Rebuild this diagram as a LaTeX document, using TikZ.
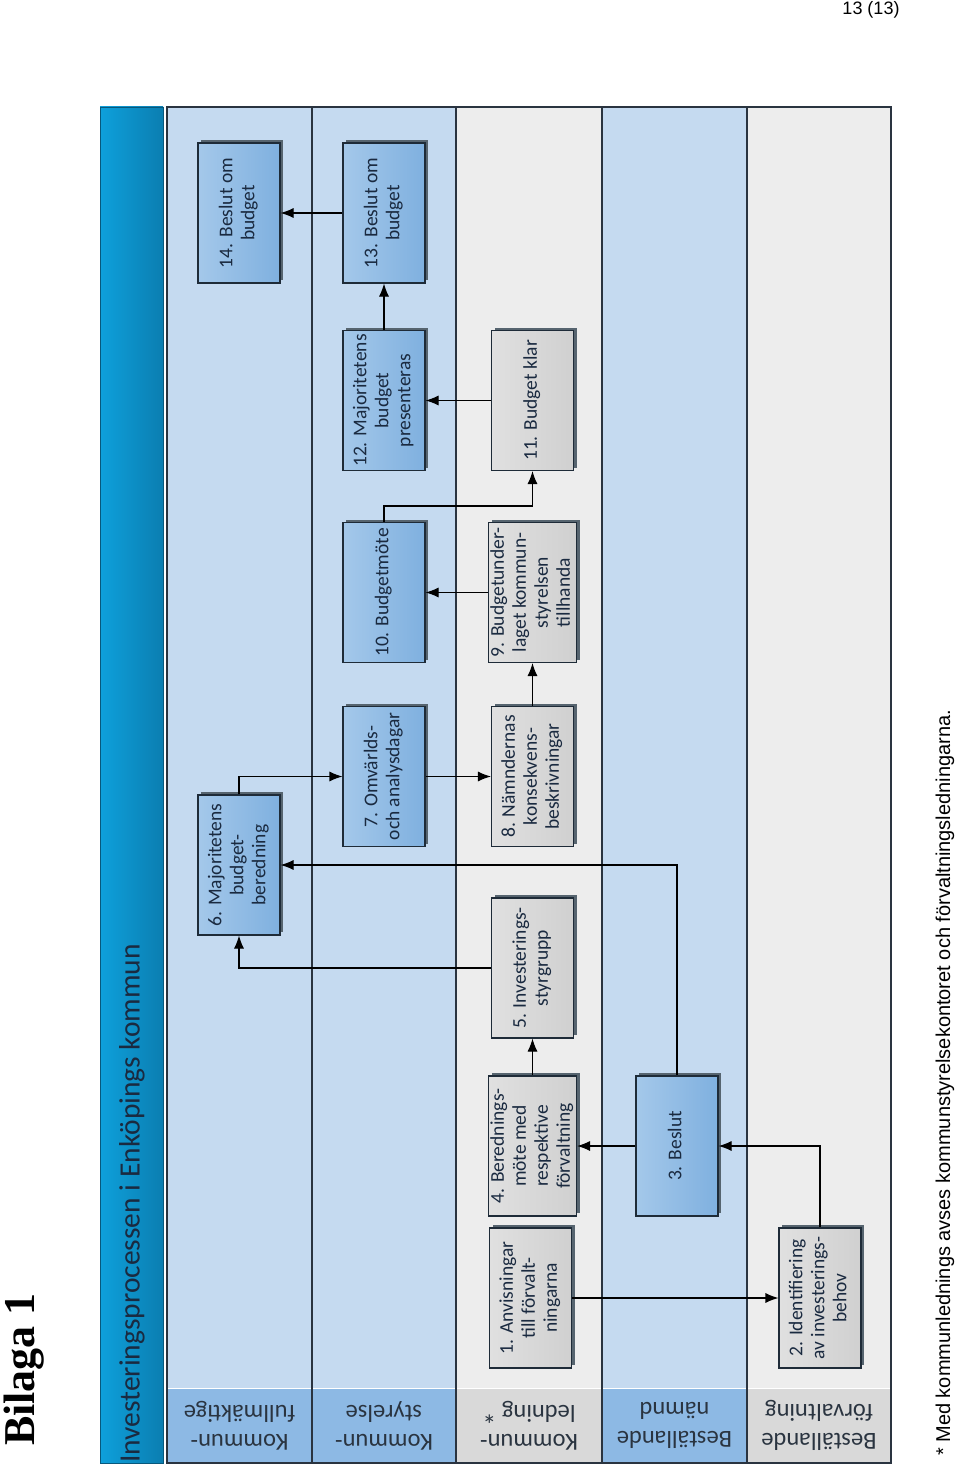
\documentclass[tikz,border=0pt]{standalone}
\usepackage{fontspec}
\usepackage{graphicx}
\setmainfont{Carlito}
\newfontfamily\arialf{Liberation Sans}
\newfontfamily\timesf{Liberation Serif}
\usetikzlibrary{arrows.meta,shadows}
\definecolor{lanebl}{HTML}{C5DAF0}
\definecolor{lanegr}{HTML}{EDEDED}
\definecolor{hdrbl}{HTML}{8DB9E4}
\definecolor{hdrgr}{HTML}{D9D9D9}
\definecolor{titlel}{HTML}{0EA0DB}
\definecolor{titler}{HTML}{0B7EB1}
\definecolor{boxbl}{HTML}{A4C8EA}
\definecolor{boxbr}{HTML}{7FB0DF}
\definecolor{boxgl}{HTML}{E0E0E0}
\definecolor{boxgr}{HTML}{D0D0D0}
\definecolor{boxline}{HTML}{1E2B38}
\definecolor{shadowc}{HTML}{56646F}
\definecolor{txtc}{HTML}{1A2A40}
\definecolor{lanel}{HTML}{2A3440}
\newcommand{\vtext}[1]{\rotatebox{90}{\begin{tabular}{@{}c@{}}#1\end{tabular}}}
\begin{document}
\begin{tikzpicture}[x=1pt,y=-1pt,
  boxbase/.style={draw=boxline, line width=1.1pt, minimum width=82pt, minimum height=140pt,
    inner sep=0pt, text=txtc, font=\fontsize{19.5}{22}\selectfont,
    drop shadow={shadow xshift=3pt, shadow yshift=3pt, fill=shadowc, opacity=1}},
  bluebox/.style={boxbase, left color=boxbl, right color=boxbr},
  greybox/.style={boxbase, left color=boxgl, right color=boxgr},
  hdr/.style={minimum width=144pt, minimum height=75pt, inner sep=0pt, rotate=180,
    align=center, text=lanel, font=\fontsize{24.5}{29}\selectfont},
  arr/.style={line width=1.1pt, draw=black, -{Latex[length=13pt,width=10pt]}}
]
\useasboundingbox (0,0) rectangle (960,1471);
\fill[white] (0,0) rectangle (960,1471);

% title bar
\shade[left color=titlel, right color=titler] (100,107) rectangle (163,1463);
\draw[line width=0.8pt, draw=titler!70!black] (100,107) rectangle (163,1463);
\node[rotate=90, anchor=west, inner sep=0pt, text=txtc, font=\fontsize{29.5}{32}\selectfont] (title) at (132,1463) {Investeringsprocessen i Enköpings kommun};

% lanes
\fill[lanebl] (167,107) rectangle (312,1388);
\fill[lanebl] (312,107) rectangle (456,1388);
\fill[lanegr] (456,107) rectangle (602,1388);
\fill[lanebl] (602,107) rectangle (747,1388);
\fill[lanegr] (747,107) rectangle (891,1388);

% headers
\node[hdr, fill=hdrbl] (h1) at (239.5,1425.5) {Kommun-\\fullmäktige};
\node[hdr, fill=hdrbl] (h2) at (384,1425.5) {Kommun-\\styrelse};
\node[hdr, fill=hdrgr] (h3) at (529,1425.5) {Kommun-\\ledning \raisebox{-2pt}{\fontsize{28}{28}\selectfont *}};
\node[hdr, fill=hdrbl] (h4) at (674.5,1425.5) {Beställande\\nämnd};
\node[hdr, fill=hdrgr] (h5) at (819,1425.5) {Beställande\\förvaltning};

\draw[white, line width=1pt] (167,1388) -- (891,1388);
\foreach \xx in {312,456,602,747} \draw[lanel, line width=1.1pt] (\xx,107) -- (\xx,1463);
\draw[lanel, line width=1.1pt] (167,107) rectangle (891,1463);

% boxes
\node[bluebox] (b14) at (239,213) {\vtext{14. Beslut om\\budget}};
\node[bluebox] (b13) at (384,213) {\vtext{13. Beslut om\\budget}};
\node[bluebox] (b12) at (384,400.5) {\vtext{12. Majoritetens\\budget\\presenteras}};
\node[greybox] (b11) at (532.5,400.5) {\vtext{11. Budget klar}};
\node[bluebox] (b10) at (384,592.5) {\vtext{10. Budgetmöte}};
\node[greybox] (b9) at (532.5,592.5) {\vtext{9. Budgetunder-\\laget kommun-\\styrelsen\\tillhanda}};
\node[bluebox] (b7) at (384,776.5) {\vtext{7. Omvärlds-\\och analysdagar}};
\node[greybox] (b8) at (532.5,776.5) {\vtext{8. Nämndernas\\konsekvens-\\beskrivningar}};
\node[bluebox] (b6) at (239,865) {\vtext{6. Majoritetens\\budget-\\beredning}};
\node[greybox] (b5) at (532.5,968) {\vtext{5. Investerings-\\styrgrupp}};
\node[greybox] (b4) at (532.5,1146) {\vtext{4. Berednings-\\möte med\\respektive\\förvaltning}};
\node[bluebox] (b3) at (677,1146) {\vtext{3. Beslut}};
\node[greybox] (b1) at (530.5,1298) {\vtext{1. Anvisningar\\till förvalt-\\ningarna}};
\node[greybox] (b2) at (820,1298) {\vtext{2. Identifiering\\av investerings-\\behov}};

% connectors
\draw[arr] (b1.east) -- (b2.west);
\draw[arr] (b2.north) |- (b3.east);
\draw[arr] (b3.west) -- (b4.east);
\draw[arr] (b4.north) -- (b5.south);
\draw[arr] (b5.west) -| (b6.south);
\draw[arr] (b3.north) |- (b6.east);
\draw[arr] (b6.north) |- (b7.west);
\draw[arr] (b7.east) -- (b8.west);
\draw[arr] (b8.north) -- (b9.south);
\draw[arr] (b9.west) -- (b10.east);
\draw[arr] (b10.north) -- ([yshift=16pt]b10.north) -| (b11.south);
\draw[arr] (b11.west) -- (b12.east);
\draw[arr] (b12.north) -- (b13.south);
\draw[arr] (b13.west) -- (b14.east);

% page texts
\node[anchor=center, inner sep=0pt, font=\arialf\fontsize{18}{20}\selectfont] (page) at (871,10) {13 (13)};
\node[rotate=90, anchor=base west, inner sep=0pt, font=\timesf\bfseries\fontsize{44}{48}\selectfont] (bilaga) at (34,1446) {Bilaga 1};
\node[rotate=90, anchor=west, inner sep=0pt, font=\arialf\fontsize{20}{22}\selectfont] (foot) at (945,1456) {* Med kommunlednings avses kommunstyrelsekontoret och förvaltningsledningarna.};
\end{tikzpicture}
\end{document}
